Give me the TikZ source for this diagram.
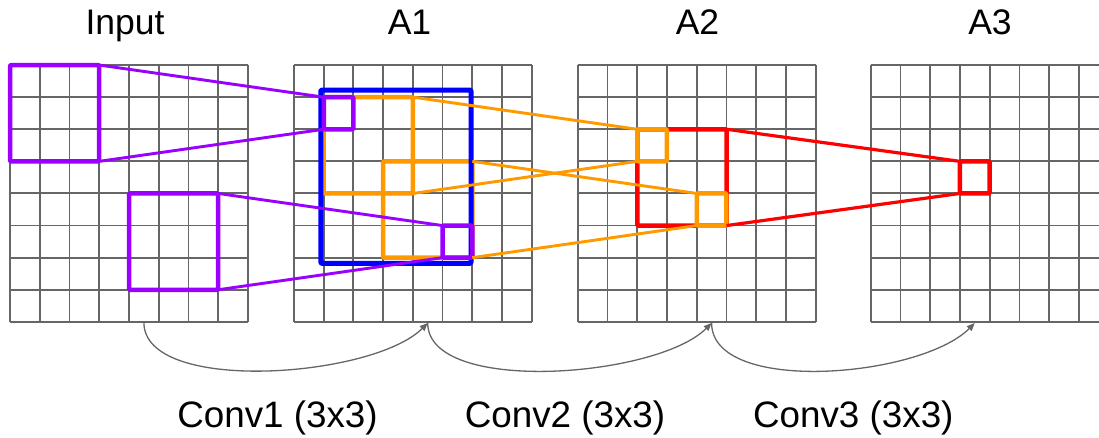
\documentclass[tikz,border=0pt]{standalone}
\usepackage{fontspec}
\setmainfont{Liberation Sans}
\usetikzlibrary{arrows.meta}
\definecolor{gridgray}{RGB}{102,102,102}
\definecolor{cpurple}{RGB}{153,0,255}
\definecolor{cblue}{RGB}{0,0,255}
\definecolor{corange}{RGB}{255,153,0}
\definecolor{cred}{RGB}{255,0,0}
\newcommand{\cnngrid}[2]{% x0, cell width
  \foreach \i in {0,...,8}{
    \draw[gridline] ({#1+\i*#2},65) -- ({#1+\i*#2},321.8);
    \draw[gridline] (#1,{65+\i*32.1}) -- ({#1+8*#2},{65+\i*32.1});
  }
}
\tikzset{
  gridline/.style={draw=gridgray, line width=1.9pt},
  hl/.style={draw, rectangle, inner sep=0pt, outer sep=0pt, line width=4.5pt, line join=round, rounded corners=1pt},
  cell/.style={hl, minimum width=29.7pt, minimum height=32.1pt},
  big/.style={hl, minimum width=89.2pt, minimum height=96.3pt},
  link/.style={line width=2.9pt},
  conv/.style={draw=gridgray, line width=1.3pt, -{Triangle[length=8pt,width=6.5pt]}},
  lbl/.style={anchor=base, inner sep=0pt, font=\fontsize{35.5}{40}\selectfont},
  blbl/.style={anchor=base, inner sep=0pt, font=\fontsize{36.8}{40}\selectfont},
}
\begin{document}
\begin{tikzpicture}[x=1pt,y=-1pt]
\useasboundingbox (0,0) rectangle (1099,437);
\clip (0,0) rectangle (1099,437);
% grids
\cnngrid{10}{29.75}
\cnngrid{294}{29.7}
\cnngrid{577.7}{29.75}
\cnngrid{870.7}{29.75}
% titles
\node[lbl] (tin) at (125,34.3) {Input};
\node[lbl] (ta1) at (409.5,34.3) {A1};
\node[lbl] (ta2) at (697.5,34.3) {A2};
\node[lbl] (ta3) at (990,34.3) {A3};
\node[blbl] (tc1) at (277.5,427.3) {Conv1 (3x3)};
\node[blbl] (tc2) at (565,427.3) {Conv2 (3x3)};
\node[blbl] (tc3) at (853.3,427.3) {Conv3 (3x3)};
% highlight boxes
\node[big, draw=cpurple] (in1) at (54.6,113.2) {};
\node[big, draw=cpurple] (in2) at (173.6,241.6) {};
\node[big, draw=cred] (rb) at (681.9,177.4) {};
\node[big, draw=corange] (oa) at (368.3,145.3) {};
\node[big, draw=corange] (ob) at (427.7,209.5) {};
\node[hl, draw=cblue, line width=5pt, minimum width=150.3pt, minimum height=173.3pt] (bl) at (395.9,176.7) {};
\node[cell, draw=cpurple] (p1) at (338.6,113.2) {};
\node[cell, draw=cpurple] (p2) at (457.4,241.6) {};
\node[cell, draw=corange] (o1) at (652.1,145.3) {};
\node[cell, draw=corange] (o2) at (711.6,209.5) {};
\node[cell, draw=cred] (r3) at (974.8,177.4) {};
% connectors
\draw[link, cpurple] (in1.north east) -- (p1.north west);
\draw[link, cpurple] (in1.south east) -- (p1.south west);
\draw[link, cpurple] (in2.north east) -- (p2.north west);
\draw[link, cpurple] (in2.south east) -- (p2.south west);
\draw[link, corange] (oa.north east) -- (o1.north west);
\draw[link, corange] (oa.south east) -- (o1.south west);
\draw[link, corange] (ob.north east) -- (o2.north west);
\draw[link, corange] (ob.south east) -- (o2.south west);
\draw[link, cred, line width=3.2pt] (rb.north east) -- (r3.north west);
\draw[link, cred, line width=3.2pt] (rb.south east) -- (r3.south west);
% conv arcs
\coordinate (s1) at (143.9,322.5);
\coordinate (e1) at (427.7,323);
\coordinate (e2) at (711.6,323);
\coordinate (e3) at (974.8,323);
\draw[conv] (s1) .. controls ++(0,72) and ++(-55,55) .. (e1);
\draw[conv] (e1) .. controls ++(0,72) and ++(-55,55) .. (e2);
\draw[conv] (e2) .. controls ++(0,72) and ++(-55,55) .. (e3);
\end{tikzpicture}
\end{document}
